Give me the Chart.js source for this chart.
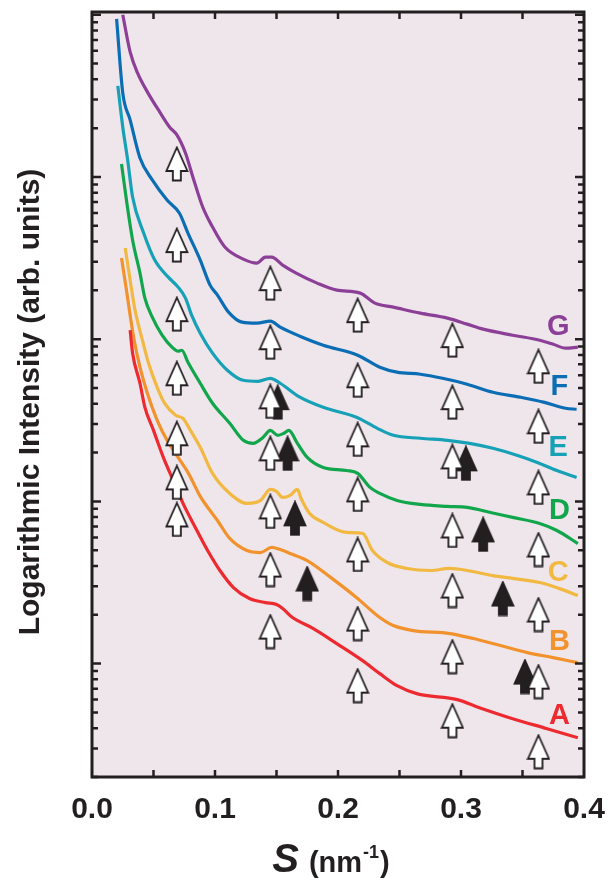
<!DOCTYPE html>
<html>
<head>
<meta charset="utf-8">
<script src="https://cdn.jsdelivr.net/npm/chart.js@4.4.1/dist/chart.umd.min.js"></script>
<style>
  html, body { margin: 0; padding: 0; background: #fff; }
  #wrap { width: 609px; height: 881px; position: relative; }
</style>
</head>
<body>
<div id="wrap"><canvas id="saxsChart"></canvas></div>
<script>
// scattering vector S (nm^-1) and intensity (arb. units)
const sA = [0.031, 0.033, 0.039, 0.043, 0.050, 0.058, 0.066, 0.074, 0.084, 0.094, 0.104, 0.115, 0.128, 0.141, 0.150, 0.155, 0.163, 0.180, 0.199, 0.220, 0.234, 0.248, 0.264, 0.297, 0.315, 0.342, 0.370, 0.395];
const iA = [1137, 820, 535, 380, 274, 186.9, 134.8, 97.2, 69.1, 49.8, 37.5, 29.45, 25.19, 23.79, 23.13, 21.85, 19.23, 16.44, 13.29, 10.43, 8.677, 7.314, 6.530, 5.995, 5.350, 4.576, 3.971, 3.493];

const sB = [0.024, 0.028, 0.031, 0.034, 0.039, 0.045, 0.053, 0.061, 0.070, 0.078, 0.088, 0.102, 0.112, 0.126, 0.137, 0.146, 0.153, 0.161, 0.175, 0.194, 0.215, 0.234, 0.245, 0.261, 0.291, 0.310, 0.332, 0.354, 0.375, 0.395];
const iB = [3162, 2007, 1406, 1014, 672, 464, 316, 238, 186.9, 151, 107.4, 76.3, 59.1, 49.8, 48.4, 52.0, 50.5, 47.8, 43.2, 34.0, 25.55, 19.23, 17.16, 15.98, 15.32, 14.27, 12.92, 11.69, 10.89, 10.14];

const sC = [0.027, 0.031, 0.035, 0.041, 0.046, 0.053, 0.059, 0.068, 0.074, 0.080, 0.088, 0.098, 0.112, 0.126, 0.137, 0.145, 0.150, 0.155, 0.161, 0.167, 0.170, 0.177, 0.188, 0.207, 0.220, 0.228, 0.240, 0.256, 0.275, 0.291, 0.305, 0.326, 0.342, 0.364, 0.380, 0.395];
const iC = [3645, 2313, 1510, 986, 711, 505, 403, 340, 325, 274, 215.4, 148.8, 112, 97.2, 101.4, 118.6, 115.3, 105.8, 108.9, 118.6, 104.3, 84.3, 74.2, 64.4, 63.5, 49.8, 42.0, 38.6, 37.5, 38.6, 37.5, 34.9, 33.5, 31.6, 29.0, 26.3];

const sD = [0.024, 0.028, 0.033, 0.039, 0.043, 0.049, 0.057, 0.065, 0.070, 0.073, 0.078, 0.088, 0.098, 0.112, 0.123, 0.131, 0.139, 0.145, 0.151, 0.156, 0.160, 0.167, 0.175, 0.188, 0.207, 0.216, 0.226, 0.234, 0.248, 0.267, 0.289, 0.305, 0.324, 0.342, 0.364, 0.378, 0.395];
const iD = [12030, 7211, 4085, 2555, 1791, 1367, 1058, 893, 843, 855, 721, 535, 403, 303, 238, 228, 248, 274, 255.5, 263, 274, 228, 186.9, 162, 155, 148.8, 122, 112, 101.4, 95.8, 93.1, 91.8, 85.5, 79.65, 73.1, 66.2, 55.0];

const sE = [0.021, 0.025, 0.029, 0.033, 0.042, 0.051, 0.062, 0.070, 0.076, 0.081, 0.088, 0.098, 0.110, 0.123, 0.135, 0.145, 0.153, 0.169, 0.188, 0.215, 0.232, 0.245, 0.267, 0.289, 0.307, 0.326, 0.346, 0.362, 0.378, 0.394];
const iE = [36450, 20350, 12730, 7525, 4511, 3074, 2413, 2094, 1791, 1406, 1089, 820, 644, 558, 550, 574, 535, 439, 380, 330, 282, 255.5, 245, 238, 228, 212.5, 192, 174, 155, 140.6];

const sF = [0.020, 0.025, 0.031, 0.039, 0.049, 0.061, 0.071, 0.078, 0.088, 0.096, 0.102, 0.111, 0.122, 0.134, 0.145, 0.153, 0.169, 0.188, 0.216, 0.234, 0.248, 0.267, 0.285, 0.305, 0.326, 0.348, 0.367, 0.385, 0.394];
const iF = [94470, 33000, 22480, 13100, 9583, 7211, 5995, 4511, 3074, 2154, 1869, 1468, 1273, 1255, 1292, 1186, 1043, 918, 797, 672, 626, 608, 574, 528, 471, 439, 409, 375, 370];

const sG = [0.025, 0.031, 0.037, 0.045, 0.055, 0.063, 0.069, 0.076, 0.082, 0.090, 0.098, 0.108, 0.123, 0.134, 0.141, 0.146, 0.155, 0.166, 0.183, 0.199, 0.218, 0.230, 0.245, 0.267, 0.289, 0.305, 0.318, 0.342, 0.364, 0.375, 0.385, 0.395];
const iG = [100000, 59100, 43850, 33480, 25190, 20350, 18170, 14060, 10000, 6530, 4913, 3698, 3117, 2945, 3207, 3207, 2862, 2555, 2216, 2007, 1923, 1668, 1576, 1447, 1348, 1238, 1153, 1058, 986, 931, 880, 893];

const curveNames = ['A', 'B', 'C', 'D', 'E', 'F', 'G'];
const curveS = [sA, sB, sC, sD, sE, sF, sG];
const curveI = [iA, iB, iC, iD, iE, iF, iG];
const curveColors = ['#ec2a2f', '#f2922c', '#f2b942', '#12a64c', '#17a1b7', '#0b6db4', '#8c3f96'];

// curve letters, placed in data coordinates
const labelS = [0.380, 0.380, 0.379, 0.380, 0.379, 0.380, 0.379];
const labelI = [4.775, 13.67, 36.45, 86.8, 212.5, 505, 1186];

// open arrows (five columns, one per curve G..A) and filled arrows
const whiteArrowS = [0.069, 0.069, 0.069, 0.069, 0.069, 0.069, 0.069,
                     0.145, 0.145, 0.145, 0.145, 0.145, 0.145, 0.145,
                     0.216, 0.216, 0.216, 0.216, 0.216, 0.216, 0.216,
                     0.293, 0.293, 0.293, 0.293, 0.293, 0.293, 0.293,
                     0.363, 0.363, 0.363, 0.363, 0.363, 0.363, 0.363];
const whiteArrowI = [12030, 3804, 1427, 574, 245, 131.0, 77.4,
                     2216, 958, 414, 197.8, 86.8, 38.0, 15.76,
                     1406, 558, 241.3, 110.4, 47.07, 17.65, 7.314,
                     986, 409, 176.5, 66.2, 28.22, 11.04, 4.448,
                     681, 290.4, 122, 50.5, 20.07, 7.743, 2.862];
const blackArrowS = [0.151, 0.159, 0.165, 0.175, 0.304, 0.318, 0.334, 0.352];
const blackArrowI = [409, 197.8, 78.6, 31.17, 171.7, 62.6, 25.19, 8.315];

// axes
const xMin = 0, xMax = 0.4;
const yMin = 2, yMax = 104000;
const xLabelValues = [0, 0.1, 0.2, 0.3, 0.4];
const xLabelText = ['0.0', '0.1', '0.2', '0.3', '0.4'];
const xTickValues = [0.05, 0.1, 0.15, 0.2, 0.25, 0.3, 0.35];

const frameColor = '#231f20';
const plotBg = '#efe6ec';
const fontFamily = "'Liberation Sans', Arial, Helvetica, sans-serif";

function makeArrow(fill) {
    const c = document.createElement('canvas');
    c.width = 24;
    c.height = 36;
    const g = c.getContext('2d');
    g.beginPath();
    g.moveTo(12, 1.5);
    g.lineTo(22.5, 25);
    g.lineTo(16, 25);
    g.lineTo(16, 34.5);
    g.lineTo(8, 34.5);
    g.lineTo(8, 25);
    g.lineTo(1.5, 25);
    g.closePath();
    g.fillStyle = fill;
    g.fill();
    g.lineWidth = 1.8;
    g.lineJoin = 'miter';
    g.strokeStyle = frameColor;
    g.stroke();
    return c;
}

const decorPlugin = {
    id: 'decor',
    beforeDatasetsDraw(chart) {
        const { ctx, chartArea: a } = chart;
        ctx.save();
        ctx.fillStyle = plotBg;
        ctx.fillRect(a.left, a.top, a.right - a.left, a.bottom - a.top);
        ctx.restore();
    },
    afterDatasetsDraw(chart) {
        const { ctx, chartArea: a } = chart;
        const xs = chart.scales.x, ys = chart.scales.y;
        ctx.save();
        ctx.strokeStyle = frameColor;
        ctx.fillStyle = frameColor;

        // ticks pointing inward
        ctx.lineWidth = 2.5;
        ctx.beginPath();
        xTickValues.forEach(v => {
            const px = xs.getPixelForValue(v);
            ctx.moveTo(px, a.bottom); ctx.lineTo(px, a.bottom - 7);
            ctx.moveTo(px, a.top); ctx.lineTo(px, a.top + 7);
        });
        for (let e = 0; e <= 5; e++) {
            for (let m = 1; m <= 9; m++) {
                const v = m * Math.pow(10, e);
                if (v < yMin || v > yMax) continue;
                const py = ys.getPixelForValue(v);
                const len = m === 1 ? 9 : 6;
                ctx.moveTo(a.left, py); ctx.lineTo(a.left + len, py);
                ctx.moveTo(a.right, py); ctx.lineTo(a.right - len, py);
            }
        }
        ctx.stroke();

        // frame
        ctx.lineWidth = 3;
        ctx.strokeRect(a.left, a.top, a.right - a.left, a.bottom - a.top);

        // x tick labels
        ctx.font = 'bold 30px ' + fontFamily;
        ctx.textAlign = 'center';
        ctx.textBaseline = 'alphabetic';
        xLabelValues.forEach((v, k) => {
            ctx.fillText(xLabelText[k], xs.getPixelForValue(v), 818);
        });

        // curve letters
        ctx.font = 'bold 29px ' + fontFamily;
        ctx.textBaseline = 'middle';
        curveNames.forEach((name, k) => {
            ctx.fillStyle = curveColors[k];
            ctx.fillText(name, xs.getPixelForValue(labelS[k]), ys.getPixelForValue(labelI[k]));
        });

        // y title
        ctx.fillStyle = frameColor;
        ctx.save();
        ctx.translate(31, 402);
        ctx.rotate(-Math.PI / 2);
        ctx.font = 'bold 30px ' + fontFamily;
        ctx.textAlign = 'center';
        ctx.fillText('Logarithmic Intensity (arb. units)', 0, 0);
        ctx.restore();

        // x title: S (nm-1)
        const parts = [
            { t: 'S', f: 'italic bold 40px ' + fontFamily, dy: 0, gap: 10 },
            { t: '(nm', f: 'bold 29px ' + fontFamily, dy: 0, gap: 1 },
            { t: '-1', f: 'bold 18px ' + fontFamily, dy: -14, gap: 1 },
            { t: ')', f: 'bold 29px ' + fontFamily, dy: 0, gap: 0 }
        ];
        let total = 0;
        parts.forEach(p => { ctx.font = p.f; p.w = ctx.measureText(p.t).width; total += p.w + p.gap; });
        let cx = 331 - total / 2;
        ctx.textAlign = 'left';
        ctx.textBaseline = 'alphabetic';
        parts.forEach(p => {
            ctx.font = p.f;
            ctx.fillText(p.t, cx, 872 + p.dy);
            cx += p.w + p.gap;
        });
        ctx.restore();
    }
};

document.addEventListener('DOMContentLoaded', function() {
    const whiteArrow = makeArrow('#ffffff');
    const blackArrow = makeArrow(frameColor);

    const datasets = [];
    datasets.push({
        label: 'open arrows',
        data: whiteArrowS.map((s, k) => ({ x: s, y: whiteArrowI[k] })),
        pointStyle: whiteArrow,
        pointRadius: 10,
        showLine: false,
        order: 0
    });
    datasets.push({
        label: 'filled arrows',
        data: blackArrowS.map((s, k) => ({ x: s, y: blackArrowI[k] })),
        pointStyle: blackArrow,
        pointRadius: 10,
        showLine: false,
        order: 1
    });
    curveNames.forEach((name, k) => {
        datasets.push({
            label: name,
            data: curveS[k].map((s, j) => ({ x: s, y: curveI[k][j] })),
            borderColor: curveColors[k],
            backgroundColor: curveColors[k],
            borderWidth: 3.2,
            pointRadius: 0,
            showLine: true,
            cubicInterpolationMode: 'monotone',
            order: 2
        });
    });

    new Chart(document.getElementById('saxsChart'), {
        type: 'scatter',
        data: { datasets: datasets },
        options: {
            responsive: true,
            maintainAspectRatio: false,
            animation: false,
            layout: { padding: { left: 92, right: 25, top: 12, bottom: 104 } },
            plugins: {
                legend: { display: false },
                tooltip: { enabled: false }
            },
            scales: {
                x: { type: 'linear', min: xMin, max: xMax, display: false },
                y: { type: 'logarithmic', min: yMin, max: yMax, display: false }
            }
        },
        plugins: [decorPlugin]
    });
});
</script>
</body>
</html>
